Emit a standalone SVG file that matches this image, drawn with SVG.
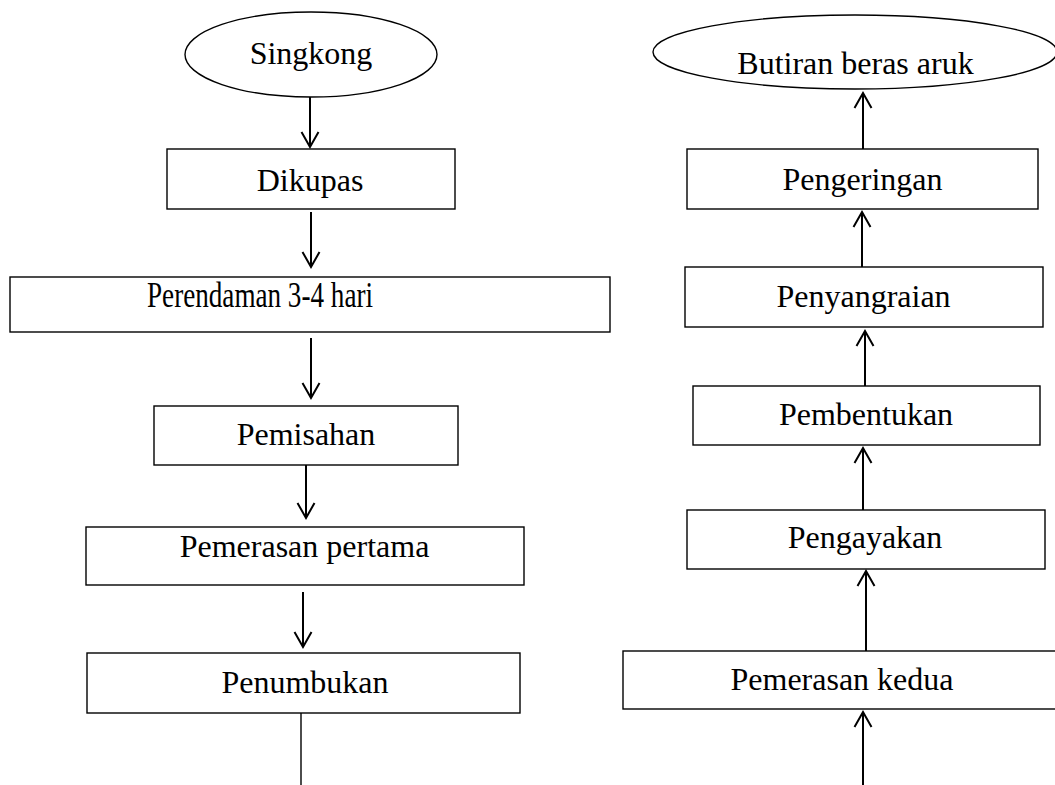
<svg xmlns="http://www.w3.org/2000/svg" width="1055" height="785" viewBox="0 0 1055 785">
  <style>
    .box { fill: #ffffff; stroke: #000000; stroke-width: 1.4; }
    .lbl { font-family: "Liberation Serif", "Times New Roman", serif; font-size: 32px; fill: #000000; text-anchor: middle; }
    .flow { stroke: #000000; stroke-width: 2; fill: none; marker-end: url(#vhead); }
    .tail { stroke: #000000; stroke-width: 1.4; fill: none; }
  </style>
  <defs>
    <marker id="vhead" markerUnits="userSpaceOnUse" markerWidth="22" markerHeight="22" refX="16" refY="10" orient="auto">
      <path d="M1,1.5 L16,10 L1,18.5" fill="none" stroke="#000000" stroke-width="2"/>
    </marker>
  </defs>
  <rect width="1055" height="785" fill="#ffffff"/>

  <!-- left column: preparation steps -->
  <g id="singkong">
    <ellipse class="box" cx="311" cy="54.5" rx="126" ry="42.5"/>
    <text class="lbl" x="311" y="64">Singkong</text>
  </g>
  <g id="dikupas">
    <rect class="box" x="167" y="149" width="288" height="60"/>
    <text class="lbl" x="310" y="191">Dikupas</text>
  </g>
  <g id="perendaman">
    <rect class="box" x="10" y="277" width="600" height="55"/>
    <text class="lbl" x="260" y="307" style="font-size:35px" textLength="226" lengthAdjust="spacingAndGlyphs">Perendaman 3-4 hari</text>
  </g>
  <g id="pemisahan">
    <rect class="box" x="154" y="406" width="304" height="59"/>
    <text class="lbl" x="306" y="445">Pemisahan</text>
  </g>
  <g id="pemerasan-pertama">
    <rect class="box" x="86" y="527" width="438" height="58"/>
    <text class="lbl" x="304.5" y="557">Pemerasan pertama</text>
  </g>
  <g id="penumbukan">
    <rect class="box" x="87" y="653" width="433" height="60"/>
    <text class="lbl" x="305" y="693">Penumbukan</text>
  </g>

  <!-- right column: finishing steps, read upwards -->
  <g id="butiran-beras-aruk">
    <ellipse class="box" cx="855" cy="52" rx="202" ry="37"/>
    <text class="lbl" x="855.5" y="74">Butiran beras aruk</text>
  </g>
  <g id="pengeringan">
    <rect class="box" x="687" y="149" width="351" height="60"/>
    <text class="lbl" x="862.5" y="190">Pengeringan</text>
  </g>
  <g id="penyangraian">
    <rect class="box" x="685" y="267" width="358" height="60"/>
    <text class="lbl" x="863.5" y="307">Penyangraian</text>
  </g>
  <g id="pembentukan">
    <rect class="box" x="693" y="386" width="347" height="59"/>
    <text class="lbl" x="866" y="425">Pembentukan</text>
  </g>
  <g id="pengayakan">
    <rect class="box" x="687" y="510" width="358" height="59"/>
    <text class="lbl" x="865" y="548">Pengayakan</text>
  </g>
  <g id="pemerasan-kedua">
    <rect class="box" x="623" y="651" width="450" height="58"/>
    <text class="lbl" x="842" y="690">Pemerasan kedua</text>
  </g>

  <!-- connectors -->
  <g id="connectors">
    <line class="flow" x1="310" y1="97" x2="310" y2="147"/>
    <line class="flow" x1="311" y1="212" x2="311" y2="267"/>
    <line class="flow" x1="311" y1="338" x2="311" y2="398"/>
    <line class="flow" x1="306" y1="465" x2="306" y2="518"/>
    <line class="flow" x1="303" y1="592" x2="303" y2="647"/>
    <line class="tail" x1="301" y1="713" x2="301" y2="785"/>

    <line class="flow" x1="863" y1="149" x2="863" y2="93"/>
    <line class="flow" x1="862" y1="267" x2="862" y2="212"/>
    <line class="flow" x1="865" y1="386" x2="865" y2="331"/>
    <line class="flow" x1="863" y1="510" x2="863" y2="448"/>
    <line class="flow" x1="866" y1="651" x2="866" y2="571"/>
    <line class="flow" x1="863" y1="785" x2="863" y2="712"/>
  </g>
</svg>
